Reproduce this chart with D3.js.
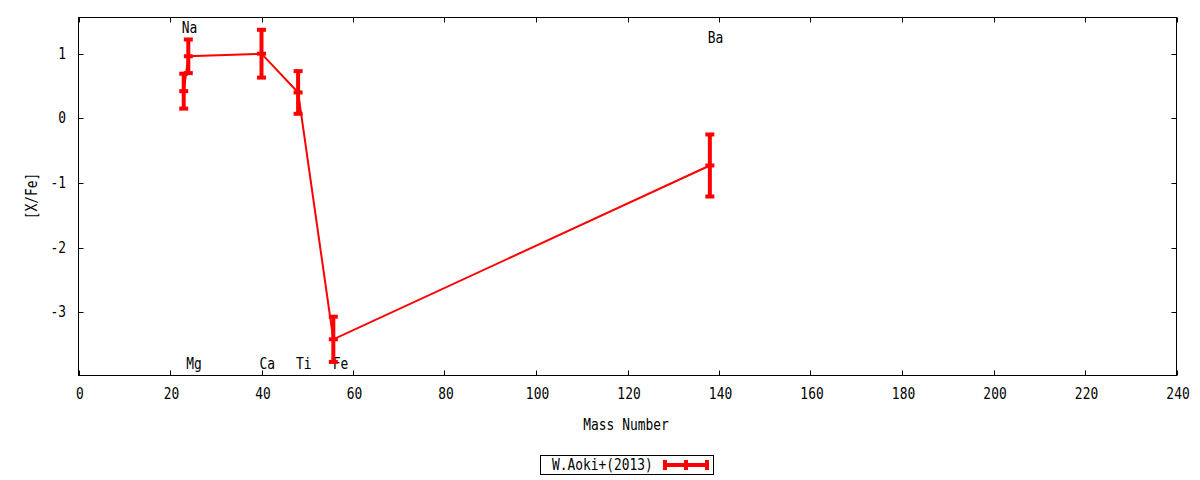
<!DOCTYPE html>
<html><head><meta charset="utf-8">
<script src="https://cdn.jsdelivr.net/npm/d3@7"></script>
<style>body{margin:0;background:#fff}svg{display:block}text{font-family:"DejaVu Sans Mono",monospace;font-size:15px;fill:#000}</style>
</head><body><svg id="c" width="1200" height="480"></svg>
<script>
const elements = ["Na","Mg","Ca","Ti","Fe","Ba"];
const massNumbers = [23, 24, 40, 48, 55.7, 138];
const values = [0.42, 0.96, 1.00, 0.40, -3.42, -0.73];
const errors = [0.27, 0.26, 0.37, 0.33, 0.35, 0.48];
const labelMass = [23, 24, 40, 48, 56, 138];
const labelY = [1.40, -3.79, -3.79, -3.79, -3.79, 1.25];
const xTicks = [0,20,40,60,80,100,120,140,160,180,200,220,240];
const yTicks = [1,0,-1,-2,-3];
const seriesName = "W.Aoki+(2013)";

const svg = d3.select("#c");
const L=78.5, R=1176.5, T=17.5, B=375.5;
const x = d3.scaleLinear().domain([0,240]).range([L,R]);
const y = d3.scaleLinear().domain([-3.98,1.56]).range([B,T]);
const red = "#ff0000";
const SX = 0.86;

function txt(parent, px, py, s, anchor, rot){
  return parent.append("text")
    .attr("transform",`translate(${px},${py})` + (rot?` rotate(${rot})`:"") + ` scale(${SX},1)`)
    .attr("text-anchor",anchor||"start").text(s);
}

// ticks (inward, mirrored)
const tl = 5;
const g = svg.append("g").attr("stroke","#000").attr("stroke-width",1);
xTicks.forEach(t=>{
  const px = Math.round(x(t))+0.5;
  g.append("line").attr("x1",px).attr("x2",px).attr("y1",B).attr("y2",B-tl);
  g.append("line").attr("x1",px).attr("x2",px).attr("y1",T).attr("y2",T+tl);
});
yTicks.forEach(t=>{
  const py = Math.round(y(t))+0.5;
  g.append("line").attr("x1",L).attr("x2",L+tl).attr("y1",py).attr("y2",py);
  g.append("line").attr("x1",R).attr("x2",R-tl).attr("y1",py).attr("y2",py);
});
svg.append("rect").attr("x",L).attr("y",T).attr("width",R-L).attr("height",B-T)
  .attr("fill","none").attr("stroke","#000").attr("stroke-width",1);

// tick labels
const xt = svg.append("g");
xTicks.forEach(d=>txt(xt, x(d)+1.5, 399, String(d), "middle"));
const yt = svg.append("g");
yTicks.forEach(d=>txt(yt, 66, y(d)+5, String(d), "end"));

// axis titles
txt(svg, 626, 430, "Mass Number", "middle");
txt(svg, 37, 196, "[X/Fe]", "middle", -90);

// element labels
const el = svg.append("g");
elements.forEach((d,i)=>txt(el, x(labelMass[i])-2, y(labelY[i])+5.5, d, "start"));

// line
const pts = massNumbers.map((m,i)=>[m,values[i]]);
svg.append("path").datum(pts)
  .attr("d",d3.line().x(d=>x(d[0])).y(d=>y(d[1])))
  .attr("fill","none").attr("stroke",red).attr("stroke-width",2);

// error bars
const eb = svg.append("g").attr("stroke",red);
pts.forEach((p,i)=>{
  const px = x(p[0]), y1=y(p[1]+errors[i]), y0=y(p[1]-errors[i]);
  eb.append("line").attr("x1",px).attr("x2",px).attr("y1",y1).attr("y2",y0).attr("stroke-width",4);
  [y1,y0,y(p[1])].forEach(yy=>{
    eb.append("line").attr("x1",px-4.5).attr("x2",px+4.5).attr("y1",yy).attr("y2",yy).attr("stroke-width",4);
  });
});

// legend
svg.append("rect").attr("x",540.5).attr("y",455.5).attr("width",173).attr("height",19)
  .attr("fill","none").attr("stroke","#000");
txt(svg, 552, 470, seriesName, "start");
const lg = svg.append("g").attr("stroke",red).attr("stroke-width",4);
lg.append("line").attr("x1",665).attr("x2",707).attr("y1",465).attr("y2",465);
[665,686,707].forEach(px=>lg.append("line").attr("x1",px).attr("x2",px).attr("y1",460).attr("y2",470));
</script></body></html>
